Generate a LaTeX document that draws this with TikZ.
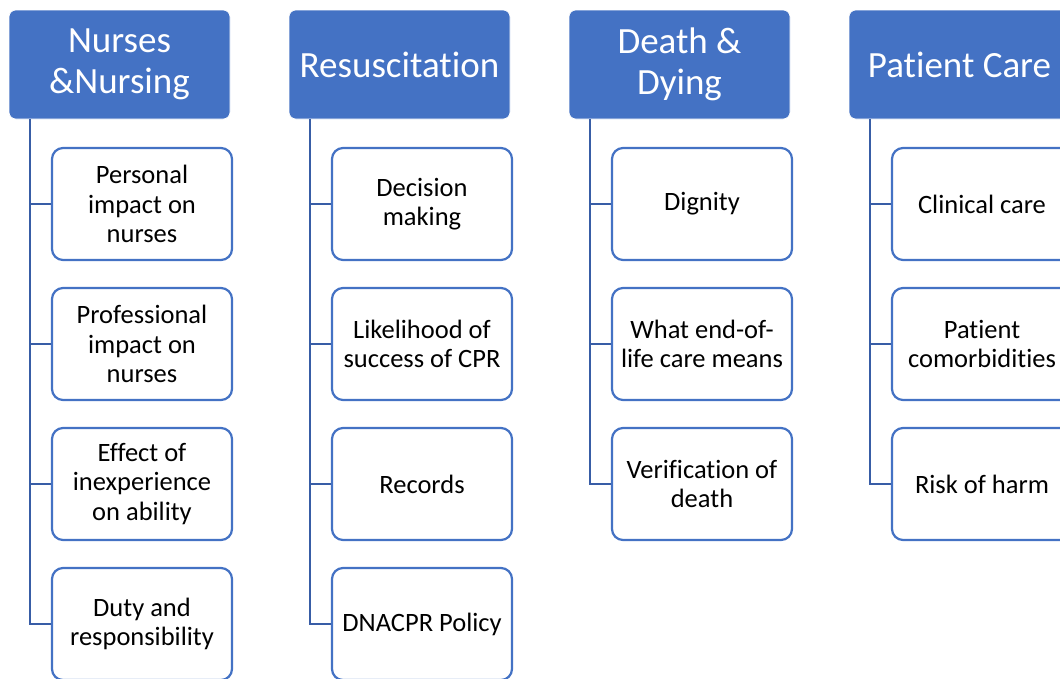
\documentclass[tikz,border=0pt]{standalone}
\usepackage{fontspec}
\setmainfont{Carlito}[Ligatures=NoCommon]
\definecolor{accent}{RGB}{68,114,196}
\definecolor{linkc}{RGB}{56,93,166}
\begin{document}
\begin{tikzpicture}[x=1pt,y=-1pt,
  header/.style={rounded corners=7pt, fill=accent, draw=white, line width=0.6pt, text=white,
    minimum width=221pt, minimum height=109pt, inner sep=2pt, align=center,
    font=\fontsize{37}{41}\selectfont},
  child/.style={rounded corners=11pt, fill=white, draw=accent, line width=2.2pt, text=black,
    minimum width=180pt, minimum height=112pt, inner sep=2pt, align=center,
    font=\fontsize{26.5}{29.5}\selectfont},
  link/.style={draw=linkc, line width=2.4pt}]
\useasboundingbox (0,0) rectangle (1060,678);
\clip (0,0) rectangle (1060,678);
% headers
\node[header] (h1) at (119.5,64.5) {Nurses\\\&Nursing};
\node[header] (h2) at (399.5,64.5) {Resuscitation};
\node[header] (h3) at (679.5,64.5) {Death \&\\Dying};
\node[header] (h4) at (959.5,64.5) {Patient Care};
% column 1
\node[child] (a1) at (142,204) {Personal\\impact on\\nurses};
\node[child] (a2) at (142,344) {Professional\\impact on\\nurses};
\node[child] (a3) at (142,484) {Effect of\\inexperience\\on ability};
\node[child] (a4) at (142,624) {Duty and\\responsibility};
% column 2
\node[child] (b1) at (422,204) {Decision\\making};
\node[child] (b2) at (422,344) {Likelihood of\\success of CPR};
\node[child] (b3) at (422,484) {Records};
\node[child] (b4) at (422,624) {DNACPR Policy};
% column 3
\node[child] (c1) at (702,204) {Dignity};
\node[child] (c2) at (702,344) {What end-of-\\life care means};
\node[child] (c3) at (702,484) {Verification of\\death};
% column 4
\node[child] (d1) at (982,204) {Clinical care};
\node[child] (d2) at (982,344) {Patient\\comorbidities};
\node[child] (d3) at (982,484) {Risk of harm};
% connectors
\foreach \h/\c in {h1/a1,h1/a2,h1/a3,h1/a4,h2/b1,h2/b2,h2/b3,h2/b4,h3/c1,h3/c2,h3/c3,h4/d1,h4/d2,h4/d3}{
  \draw[link] ([xshift=21pt]\h.south west) |- (\c.west);
}
\end{tikzpicture}
\end{document}
